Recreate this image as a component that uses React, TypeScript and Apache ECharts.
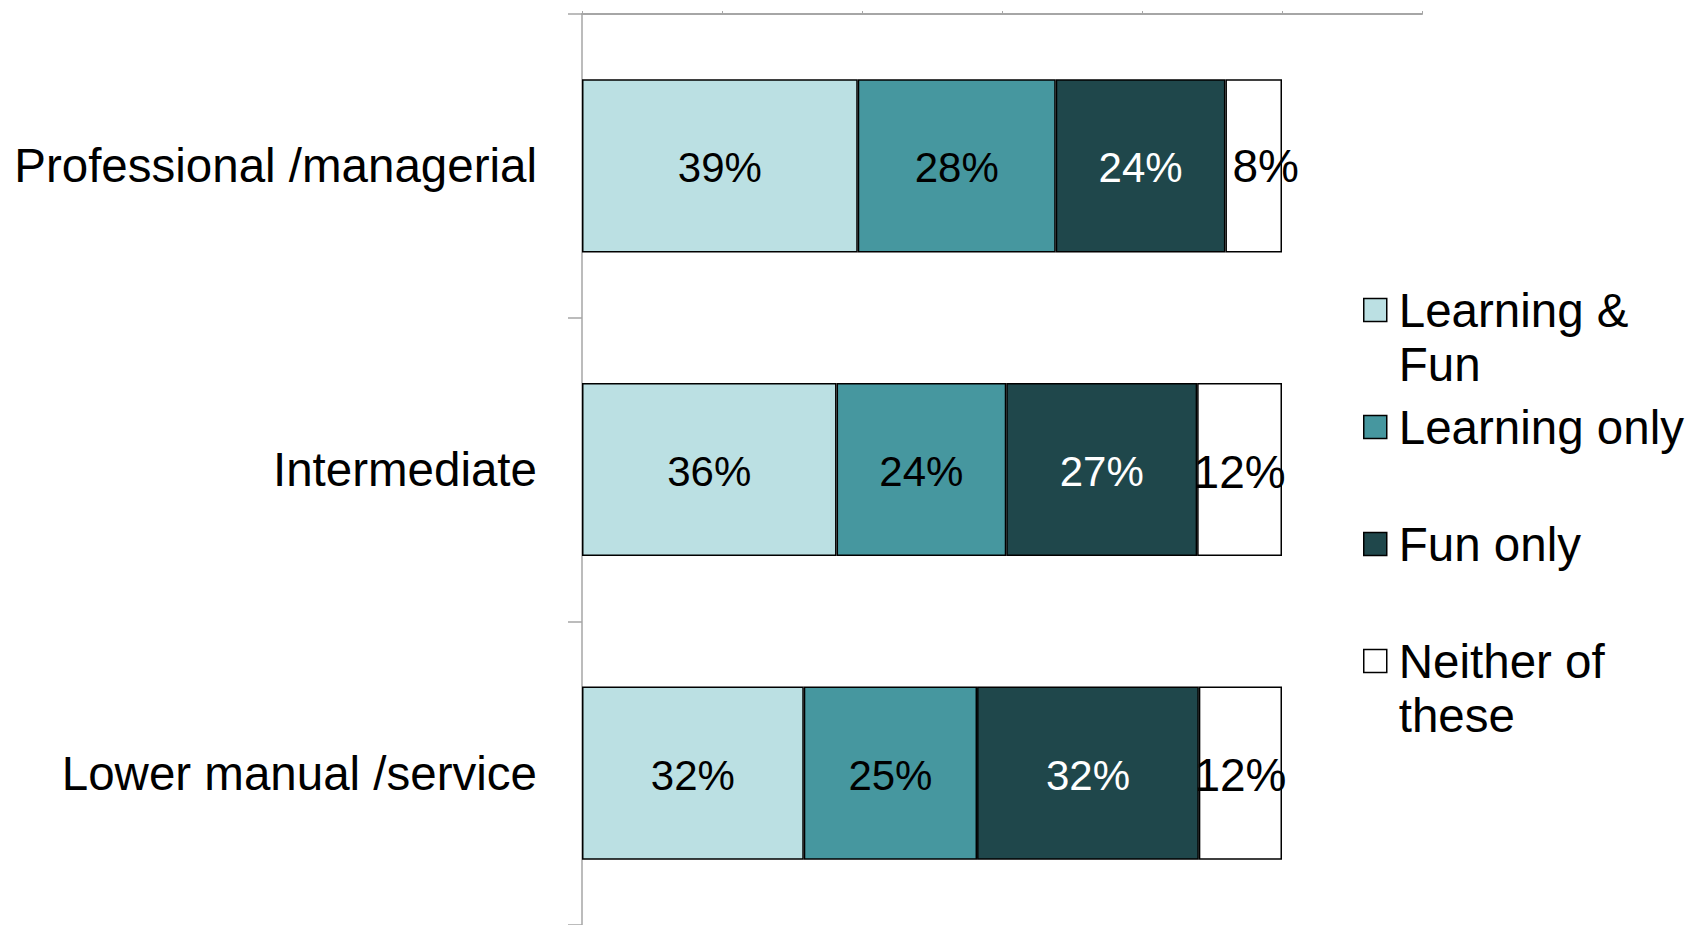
import React, { useEffect, useRef } from "react";
import * as echarts from "echarts";

const categories = ["Professional /managerial", "Intermediate", "Lower manual /service"];
const seriesNames = ["Learning & Fun", "Learning only", "Fun only", "Neither of these"];
const legendLines = [
  " \nLearning &\nFun",
  " \nLearning only\n ",
  " \nFun only\n ",
  " \nNeither of\nthese",
];
const learningFun = [39, 36, 32];
const learningOnly = [28, 24, 25];
const funOnly = [24, 27, 32];
const neither = [8, 12, 12];
const xTicks = [0, 20, 40, 60, 80, 100, 120];

const colors = ["#BBE0E3", "#46979F", "#1F474B", "#FFFFFF"];
const labelColors = ["#000", "#000", "#fff", "#000"];
const labelSizes = [42, 42, 42, 46];
const FONT = "'Liberation Sans', Arial, Helvetica, sans-serif";

export default function App() {
  const ref = useRef<HTMLDivElement>(null);
  useEffect(() => {
    if (!ref.current) return;
    const chart = echarts.init(ref.current, undefined, { renderer: "svg" });
    const all = [learningFun, learningOnly, funOnly, neither];
    const totals = categories.map((_, i) => all.reduce((s, arr) => s + arr[i], 0));
    const series = all.map((arr, si) => ({
      name: seriesNames[si],
      type: "bar",
      stack: "total",
      barWidth: "57%",
      itemStyle: { color: colors[si], borderColor: "#000", borderWidth: 1.5 },
      label: {
        show: true,
        position: "inside",
        fontFamily: FONT,
        fontSize: labelSizes[si],
        color: labelColors[si],
        offset: [0, 2],
        formatter: (p: any) => `${arr[p.dataIndex]}%`,
      },
      data: arr.map((v, i) => {
        const item: any = { value: (v / totals[i]) * 100 };
        if (si === 3 && i === 0) item.label = { offset: [12, 0] };
        return item;
      }),
    }));
    chart.setOption({
      animation: false,
      backgroundColor: "#fff",
      grid: { left: 582, top: 14, width: 840, height: 912, containLabel: false },
      xAxis: {
        type: "value",
        position: "top",
        min: xTicks[0],
        max: xTicks[xTicks.length - 1],
        interval: xTicks[1] - xTicks[0],
        axisLine: { show: true, lineStyle: { color: "#a6a6a6", width: 2 } },
        axisTick: { show: true, length: 3, lineStyle: { color: "#a6a6a6", width: 1 } },
        axisLabel: { show: false },
        splitLine: { show: false },
      },
      yAxis: {
        type: "category",
        inverse: true,
        data: categories,
        axisLine: { show: true, lineStyle: { color: "#a6a6a6", width: 1.5 } },
        axisTick: { show: true, length: 14, lineStyle: { color: "#a6a6a6", width: 1.5 } },
        axisLabel: {
          fontFamily: FONT,
          fontSize: 47.5,
          color: "#000",
          margin: 45,
          padding: [5, 0, 0, 0],
        },
      },
      legend: {
        orient: "vertical",
        left: 1363,
        top: 229,
        padding: 0,
        itemGap: -45,
        itemWidth: 23,
        itemHeight: 23,
        icon: "rect",
        data: seriesNames,
        itemStyle: { borderColor: "#000", borderWidth: 1.5 },
        textStyle: {
          fontFamily: FONT,
          fontSize: 47.5,
          lineHeight: 54,
          color: "#000",
          padding: [0, 0, 0, 7],
        },
        formatter: (name: string) => legendLines[seriesNames.indexOf(name)],
      },
      series,
    });
    return () => chart.dispose();
  }, []);
  return (
    <div
      ref={ref}
      style={{ position: "absolute", left: 0, top: 0, width: 1690, height: 925 }}
    />
  );
}
